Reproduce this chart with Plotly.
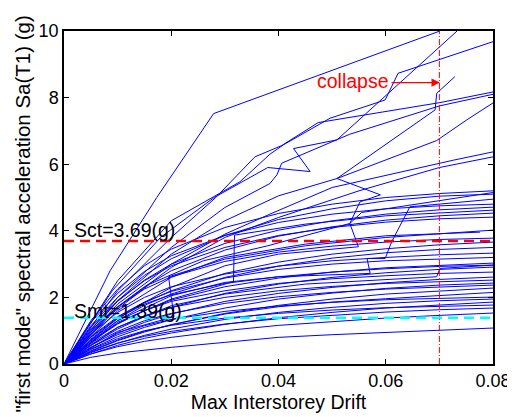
import plotly.graph_objects as go

# ---------------- data ----------------
drift_grid = [0, 0.005, 0.01, 0.015, 0.02, 0.03, 0.04, 0.05, 0.06, 0.07, 0.08]

sa_s01 = [0, 0.2, 0.33, 0.42, 0.5, 0.65, 0.8, 0.88, 0.95, 1.02, 1.08]
sa_s02 = [0, 0.3, 0.52, 0.68, 0.8, 1.0, 1.16, 1.28, 1.38, 1.46, 1.53]
sa_s03 = [0, 0.36, 0.63, 0.83, 0.98, 1.2, 1.36, 1.47, 1.56, 1.63, 1.68]
sa_s04 = [0, 0.44, 0.76, 1.0, 1.16, 1.38, 1.52, 1.62, 1.69, 1.74, 1.77]
sa_s05 = [0, 0.3, 0.56, 0.77, 0.93, 1.19, 1.39, 1.55, 1.68, 1.78, 1.86]
sa_s06 = [0, 0.5, 0.88, 1.15, 1.34, 1.58, 1.74, 1.85, 1.93, 1.98, 2.01]
sa_s07 = [0, 0.4, 0.72, 0.98, 1.18, 1.5, 1.72, 1.86, 1.96, 2.06, 2.15]
sa_s08 = [0, 0.38, 0.7, 0.96, 1.18, 1.52, 1.76, 1.95, 2.1, 2.2, 2.28]
sa_s09 = [0, 0.56, 0.98, 1.3, 1.52, 1.82, 2.02, 2.15, 2.25, 2.32, 2.37]
sa_s10 = [0, 0.45, 0.82, 1.1, 1.33, 1.68, 1.95, 2.13, 2.27, 2.37, 2.43]
sa_s11 = [0, 0.62, 1.1, 1.45, 1.7, 2.0, 2.2, 2.33, 2.42, 2.48, 2.52]
sa_s12 = [0, 0.5, 0.92, 1.25, 1.5, 1.88, 2.12, 2.3, 2.44, 2.54, 2.61]
sa_s13 = [0, 0.7, 1.22, 1.6, 1.88, 2.2, 2.42, 2.56, 2.65, 2.72, 2.76]
sa_s14 = [0, 0.58, 1.05, 1.42, 1.7, 2.12, 2.4, 2.6, 2.74, 2.84, 2.91]
sa_s15 = [0, 0.66, 1.2, 1.6, 1.92, 2.32, 2.58, 2.76, 2.89, 2.97, 3.03]
sa_s16 = [0, 0.82, 1.42, 1.86, 2.18, 2.58, 2.84, 3.0, 3.1, 3.16, 3.2]
sa_s17 = [0, 0.9, 1.55, 2.0, 2.32, 2.7, 2.94, 3.1, 3.2, 3.28, 3.33]
sa_s18 = [0, 0.72, 1.3, 1.76, 2.1, 2.6, 2.94, 3.18, 3.34, 3.44, 3.5]
sa_s19 = [0, 0.75, 1.36, 1.84, 2.2, 2.72, 3.06, 3.3, 3.46, 3.58, 3.66]
sa_s20 = [0, 1.0, 1.72, 2.25, 2.62, 3.08, 3.36, 3.54, 3.66, 3.74, 3.78]
sa_s21 = [0, 1.1, 1.9, 2.5, 2.95, 3.5, 3.86, 4.1, 4.26, 4.36, 4.41]
sa_s22 = [0, 0.95, 1.72, 2.32, 2.8, 3.42, 3.84, 4.12, 4.32, 4.45, 4.53]
sa_s23 = [0, 1.05, 1.88, 2.52, 3.0, 3.62, 4.02, 4.3, 4.5, 4.63, 4.71]
sa_s24 = [0, 1.25, 2.12, 2.78, 3.25, 3.86, 4.25, 4.5, 4.66, 4.75, 4.8]
sa_s25 = [0, 1.15, 2.0, 2.66, 3.16, 3.86, 4.34, 4.66, 4.9, 5.04, 5.1]
sa_s26 = [0, 1.3, 2.25, 2.95, 3.45, 4.1, 4.52, 4.8, 5.0, 5.12, 5.2]
sa_s27 = [0, 0.8, 1.38, 1.8, 2.08, 2.42, 2.62, 2.76, 2.86, 2.93, 2.97]
sa_s28 = [0, 0.34, 0.62, 0.86, 1.05, 1.34, 1.55, 1.7, 1.82, 1.9, 1.95]

# irregular curves (own drift values)
w00_drift = [0, 0.0086, 0.0173, 0.0279, 0.0701]
w00_sa = [0, 2.8, 5.0, 7.52, 10.0]
w01_drift = [0, 0.008, 0.016, 0.026, 0.038, 0.0533, 0.0552, 0.059, 0.0509, 0.0692, 0.0695, 0.0729]
w01_sa = [0, 1.4, 2.4, 3.1, 3.55, 4.22, 4.87, 5.08, 5.57, 7.63, 8.13, 8.63]
w02_drift = [0, 0.009, 0.018, 0.028, 0.038, 0.0459, 0.0428, 0.0509, 0.0733]
w02_sa = [0, 2.2, 3.8, 5.0, 5.9, 5.78, 6.47, 6.73, 10.0]
w03_drift = [0, 0.01, 0.02, 0.0328, 0.0384, 0.0409, 0.0496, 0.0599, 0.0623, 0.08]
w03_sa = [0, 2.5, 4.3, 5.47, 6.3, 6.58, 7.38, 7.93, 8.73, 9.68]
w04_drift = [0, 0.01, 0.02, 0.0283, 0.0356, 0.0406, 0.0474, 0.0701, 0.08]
w04_sa = [0, 2.2, 3.8, 5.0, 6.22, 6.56, 7.25, 7.85, 8.17]
w05_drift = [0, 0.01, 0.02, 0.03, 0.0384, 0.0397, 0.0406, 0.0533, 0.07, 0.08]
w05_sa = [0, 2.0, 3.5, 4.7, 5.42, 5.68, 6.03, 6.9, 7.75, 8.1]
w06_drift = [0, 0.01, 0.02, 0.03, 0.04, 0.0509, 0.0695, 0.0751, 0.08]
w06_sa = [0, 1.9, 3.3, 4.3, 5.05, 5.57, 6.71, 7.33, 7.84]
w07_drift = [0, 0.01, 0.02, 0.03, 0.0384, 0.05, 0.0726, 0.08]
w07_sa = [0, 1.8, 3.0, 3.9, 4.5, 5.3, 6.12, 6.37]
w08_drift = [0, 0.01, 0.02, 0.03, 0.04, 0.055, 0.07, 0.08]
w08_sa = [0, 1.7, 2.9, 3.8, 4.4, 5.2, 5.9, 6.22]
w09_drift = [0, 0.01, 0.02, 0.03, 0.04, 0.0571, 0.0565, 0.0599, 0.0611, 0.0645, 0.08]
w09_sa = [0, 1.3, 2.05, 2.45, 2.62, 2.72, 3.17, 3.17, 3.67, 4.72, 4.95]
w10_drift = [0, 0.01, 0.02, 0.0316, 0.0318, 0.045, 0.06, 0.08]
w10_sa = [0, 1.25, 1.95, 2.47, 3.87, 4.2, 4.45, 4.62]
w11_drift = [0, 0.01, 0.0205, 0.0195, 0.03, 0.045, 0.06, 0.08]
w11_sa = [0, 0.95, 1.42, 2.62, 3.15, 3.55, 3.8, 4.02]
w12_drift = [0, 0.01, 0.02, 0.03, 0.04, 0.0549, 0.0533, 0.0555, 0.08]
w12_sa = [0, 1.4, 2.3, 2.95, 3.3, 3.52, 4.22, 4.55, 5.15]
w13_drift = [0, 0.01, 0.02, 0.03, 0.045, 0.0695, 0.0701, 0.08]
w13_sa = [0, 1.1, 1.75, 2.1, 2.4, 2.62, 2.87, 2.97]
w14_drift = [0, 0.01, 0.02, 0.03, 0.045, 0.06, 0.0776]
w14_sa = [0, 1.6, 2.6, 3.2, 3.6, 3.85, 3.96]

sct_value = 3.69
smt_value = 1.39
collapse_drift = 0.07
x_ticks = [0, 0.02, 0.04, 0.06, 0.08]
x_tick_text = ["0", "0.02", "0.04", "0.06", "0.08"]
y_ticks = [0, 2, 4, 6, 8, 10]

smooth_curves = [sa_s01, sa_s02, sa_s03, sa_s04, sa_s05, sa_s06, sa_s07, sa_s08,
                 sa_s09, sa_s10, sa_s11, sa_s12, sa_s13, sa_s14, sa_s15, sa_s16,
                 sa_s17, sa_s18, sa_s19, sa_s20, sa_s21, sa_s22, sa_s23, sa_s24,
                 sa_s25, sa_s26, sa_s27, sa_s28]
irregular_curves = [(w00_drift, w00_sa), (w01_drift, w01_sa), (w02_drift, w02_sa),
                    (w03_drift, w03_sa), (w04_drift, w04_sa), (w05_drift, w05_sa),
                    (w06_drift, w06_sa), (w07_drift, w07_sa), (w08_drift, w08_sa),
                    (w09_drift, w09_sa), (w10_drift, w10_sa), (w11_drift, w11_sa),
                    (w12_drift, w12_sa), (w13_drift, w13_sa), (w14_drift, w14_sa)]

FONT = "Liberation Sans, Arial, sans-serif"
BLUE = "#0000FF"

fig = go.Figure()
for sa in smooth_curves:
    fig.add_trace(go.Scatter(x=drift_grid, y=sa, mode="lines",
                             line=dict(color=BLUE, width=1), hoverinfo="skip"))
for dr, sa in irregular_curves:
    fig.add_trace(go.Scatter(x=dr, y=sa, mode="lines",
                             line=dict(color=BLUE, width=1), hoverinfo="skip"))

# collapse vertical line
fig.add_trace(go.Scatter(x=[collapse_drift, collapse_drift], y=[0, 10], mode="lines",
                         line=dict(color="#FF0000", width=1, dash="6px,2px,1px,2px"),
                         hoverinfo="skip"))
# Sct and Smt lines
fig.add_trace(go.Scatter(x=[0, 0.08], y=[sct_value, sct_value], mode="lines",
                         line=dict(color="#FF0000", width=2.5, dash="10px,6px"),
                         hoverinfo="skip"))
fig.add_trace(go.Scatter(x=[0, 0.08], y=[smt_value, smt_value], mode="lines",
                         line=dict(color="#00FFFF", width=2.5, dash="10px,6px"),
                         hoverinfo="skip"))

fig.add_annotation(x=0.0015, y=4.02, xref="x", yref="y", text="Sct=3.69(g)",
                   showarrow=False, xanchor="left", yanchor="middle",
                   font=dict(family=FONT, size=19.5, color="black"))
fig.add_annotation(x=0.0015, y=1.6, xref="x", yref="y", text="Smt=1.39(g)",
                   showarrow=False, xanchor="left", yanchor="middle",
                   font=dict(family=FONT, size=19.5, color="black"))
fig.add_annotation(x=0.0538, y=8.5, xref="x", yref="y", text="collapse",
                   showarrow=False, xanchor="center", yanchor="middle",
                   font=dict(family=FONT, size=19.5, color="#FF0000"))
fig.add_annotation(x=0.0701, y=8.45, ax=0.0608, ay=8.45, xref="x", yref="y",
                   axref="x", ayref="y", text="", showarrow=True,
                   arrowhead=2, arrowsize=1.4, arrowwidth=1.2, arrowcolor="#FF0000")

# y-axis title placed as rotated text
fig.add_annotation(x=-0.097, y=0.45, xref="paper", yref="paper",
                   text='"first mode" spectral acceleration Sa(T1) (g)',
                   textangle=-90, showarrow=False, xanchor="center", yanchor="middle",
                   font=dict(family=FONT, size=20.5, color="black"))

axis_common = dict(showline=True, linecolor="black", linewidth=1.5, mirror="ticks",
                   ticks="inside", ticklen=5, tickcolor="black", showgrid=False,
                   zeroline=False, automargin=False,
                   tickfont=dict(family=FONT, size=18, color="black"))
fig.update_xaxes(range=[0, 0.08], tickvals=x_ticks, ticktext=x_tick_text,
                 title=dict(text="Max Interstorey Drift", standoff=0,
                            font=dict(family=FONT, size=19.5, color="black")),
                 **axis_common)
fig.update_yaxes(range=[0, 10], tickvals=y_ticks, **axis_common)

# the page body adds an 8px offset, so the figure is sized to end at the window edge
fig.update_layout(width=507, height=409, showlegend=False,
                  margin=dict(l=56, r=22, t=23, b=53),
                  plot_bgcolor="white", paper_bgcolor="white")

fig.write_html("out.html")
